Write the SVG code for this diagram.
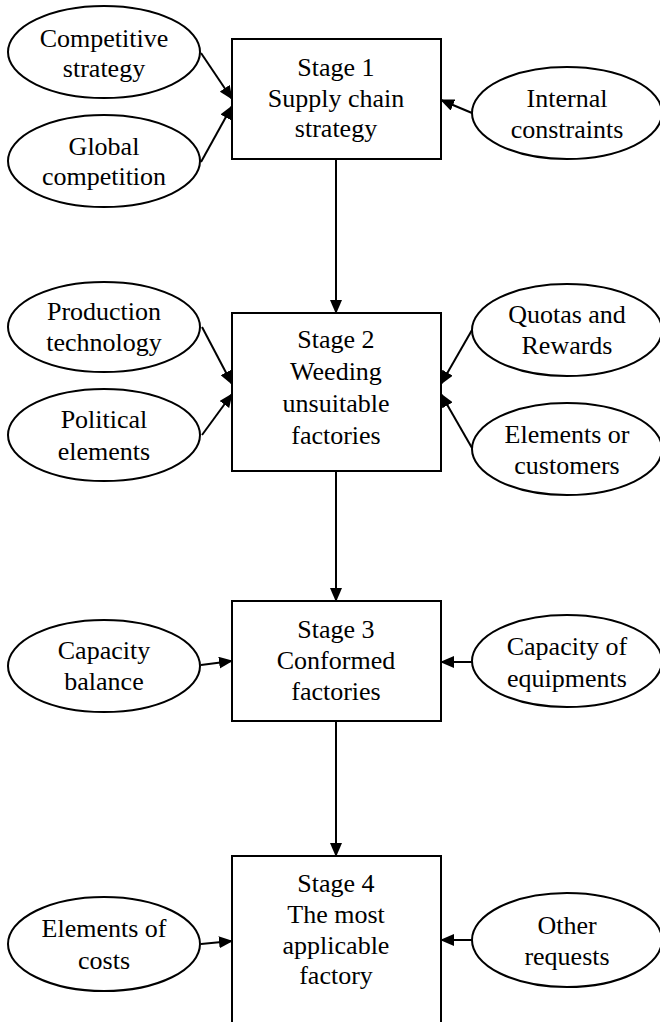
<svg xmlns="http://www.w3.org/2000/svg" width="660" height="1022" viewBox="0 0 660 1022">
<defs>
<style>
.box{fill:#fff;stroke:#000;stroke-width:2}
.ell{fill:#fff;stroke:#000;stroke-width:2}
.t{font-family:"Liberation Serif","Times New Roman",serif;font-size:26px;fill:#000;text-anchor:middle}
.c{stroke:#000;stroke-width:2;fill:none;marker-end:url(#ah)}
</style>
<marker id="ah" viewBox="0 0 14 12" refX="13" refY="6" markerWidth="14" markerHeight="12" markerUnits="userSpaceOnUse" orient="auto">
<path d="M0,0 L14,6 L0,12 z" fill="#000"/>
</marker>
</defs>
<rect width="660" height="1022" fill="#fff"/>
<g id="connectors">
<line class="c" x1="201" y1="53" x2="232" y2="99"/>
<line class="c" x1="201" y1="162" x2="232" y2="106"/>
<line class="c" x1="472" y1="113" x2="441" y2="100"/>
<line class="c" x1="336" y1="159" x2="336" y2="313"/>
<line class="c" x1="202" y1="327" x2="232" y2="384"/>
<line class="c" x1="202" y1="435" x2="232" y2="394"/>
<line class="c" x1="472" y1="330" x2="441" y2="384"/>
<line class="c" x1="472" y1="448" x2="441" y2="394"/>
<line class="c" x1="336" y1="471" x2="336" y2="601"/>
<line class="c" x1="201" y1="665" x2="232" y2="661"/>
<line class="c" x1="472" y1="662" x2="441" y2="662"/>
<line class="c" x1="336" y1="721" x2="336" y2="856"/>
<line class="c" x1="201" y1="944" x2="232" y2="941"/>
<line class="c" x1="472" y1="940" x2="441" y2="940"/>
</g>
<g id="stage1">
<rect class="box" x="232" y="39" width="209" height="120"/>
<text class="t" x="336" y="76">Stage 1</text>
<text class="t" x="336" y="107">Supply chain</text>
<text class="t" x="336" y="137">strategy</text>
</g>
<g id="stage2">
<rect class="box" x="232" y="313" width="209" height="158"/>
<text class="t" x="336" y="348">Stage 2</text>
<text class="t" x="336" y="380">Weeding</text>
<text class="t" x="336" y="412">unsuitable</text>
<text class="t" x="336" y="444">factories</text>
</g>
<g id="stage3">
<rect class="box" x="232" y="601" width="209" height="120"/>
<text class="t" x="336" y="638">Stage 3</text>
<text class="t" x="336" y="669">Conformed</text>
<text class="t" x="336" y="700">factories</text>
</g>
<g id="stage4">
<rect class="box" x="232" y="856" width="209" height="180"/>
<text class="t" x="336" y="892">Stage 4</text>
<text class="t" x="336" y="923">The most</text>
<text class="t" x="336" y="954">applicable</text>
<text class="t" x="336" y="984">factory</text>
</g>
<g id="competitive-strategy">
<ellipse class="ell" cx="104" cy="52" rx="96" ry="46"/>
<text class="t" x="104" y="47">Competitive</text>
<text class="t" x="104" y="77">strategy</text>
</g>
<g id="global-competition">
<ellipse class="ell" cx="104" cy="161" rx="96" ry="46"/>
<text class="t" x="104" y="155">Global</text>
<text class="t" x="104" y="185">competition</text>
</g>
<g id="internal-constraints">
<ellipse class="ell" cx="567" cy="113" rx="95" ry="46"/>
<text class="t" x="567" y="107">Internal</text>
<text class="t" x="567" y="138">constraints</text>
</g>
<g id="production-technology">
<ellipse class="ell" cx="104" cy="327" rx="96" ry="45"/>
<text class="t" x="104" y="320">Production</text>
<text class="t" x="104" y="351">technology</text>
</g>
<g id="political-elements">
<ellipse class="ell" cx="104" cy="435" rx="96" ry="46"/>
<text class="t" x="104" y="428">Political</text>
<text class="t" x="104" y="460">elements</text>
</g>
<g id="quotas-rewards">
<ellipse class="ell" cx="567" cy="330" rx="95" ry="46"/>
<text class="t" x="567" y="323">Quotas and</text>
<text class="t" x="567" y="354">Rewards</text>
</g>
<g id="elements-customers">
<ellipse class="ell" cx="567" cy="449" rx="95" ry="46"/>
<text class="t" x="567" y="443">Elements or</text>
<text class="t" x="567" y="474">customers</text>
</g>
<g id="capacity-balance">
<ellipse class="ell" cx="104" cy="666" rx="96" ry="46"/>
<text class="t" x="104" y="659">Capacity</text>
<text class="t" x="104" y="690">balance</text>
</g>
<g id="capacity-equipments">
<ellipse class="ell" cx="567" cy="661" rx="95" ry="46"/>
<text class="t" x="567" y="655">Capacity of</text>
<text class="t" x="567" y="687">equipments</text>
</g>
<g id="elements-costs">
<ellipse class="ell" cx="104" cy="944" rx="96" ry="47"/>
<text class="t" x="104" y="937">Elements of</text>
<text class="t" x="104" y="969">costs</text>
</g>
<g id="other-requests">
<ellipse class="ell" cx="567" cy="940" rx="95" ry="47"/>
<text class="t" x="567" y="934">Other</text>
<text class="t" x="567" y="965">requests</text>
</g>
</svg>
